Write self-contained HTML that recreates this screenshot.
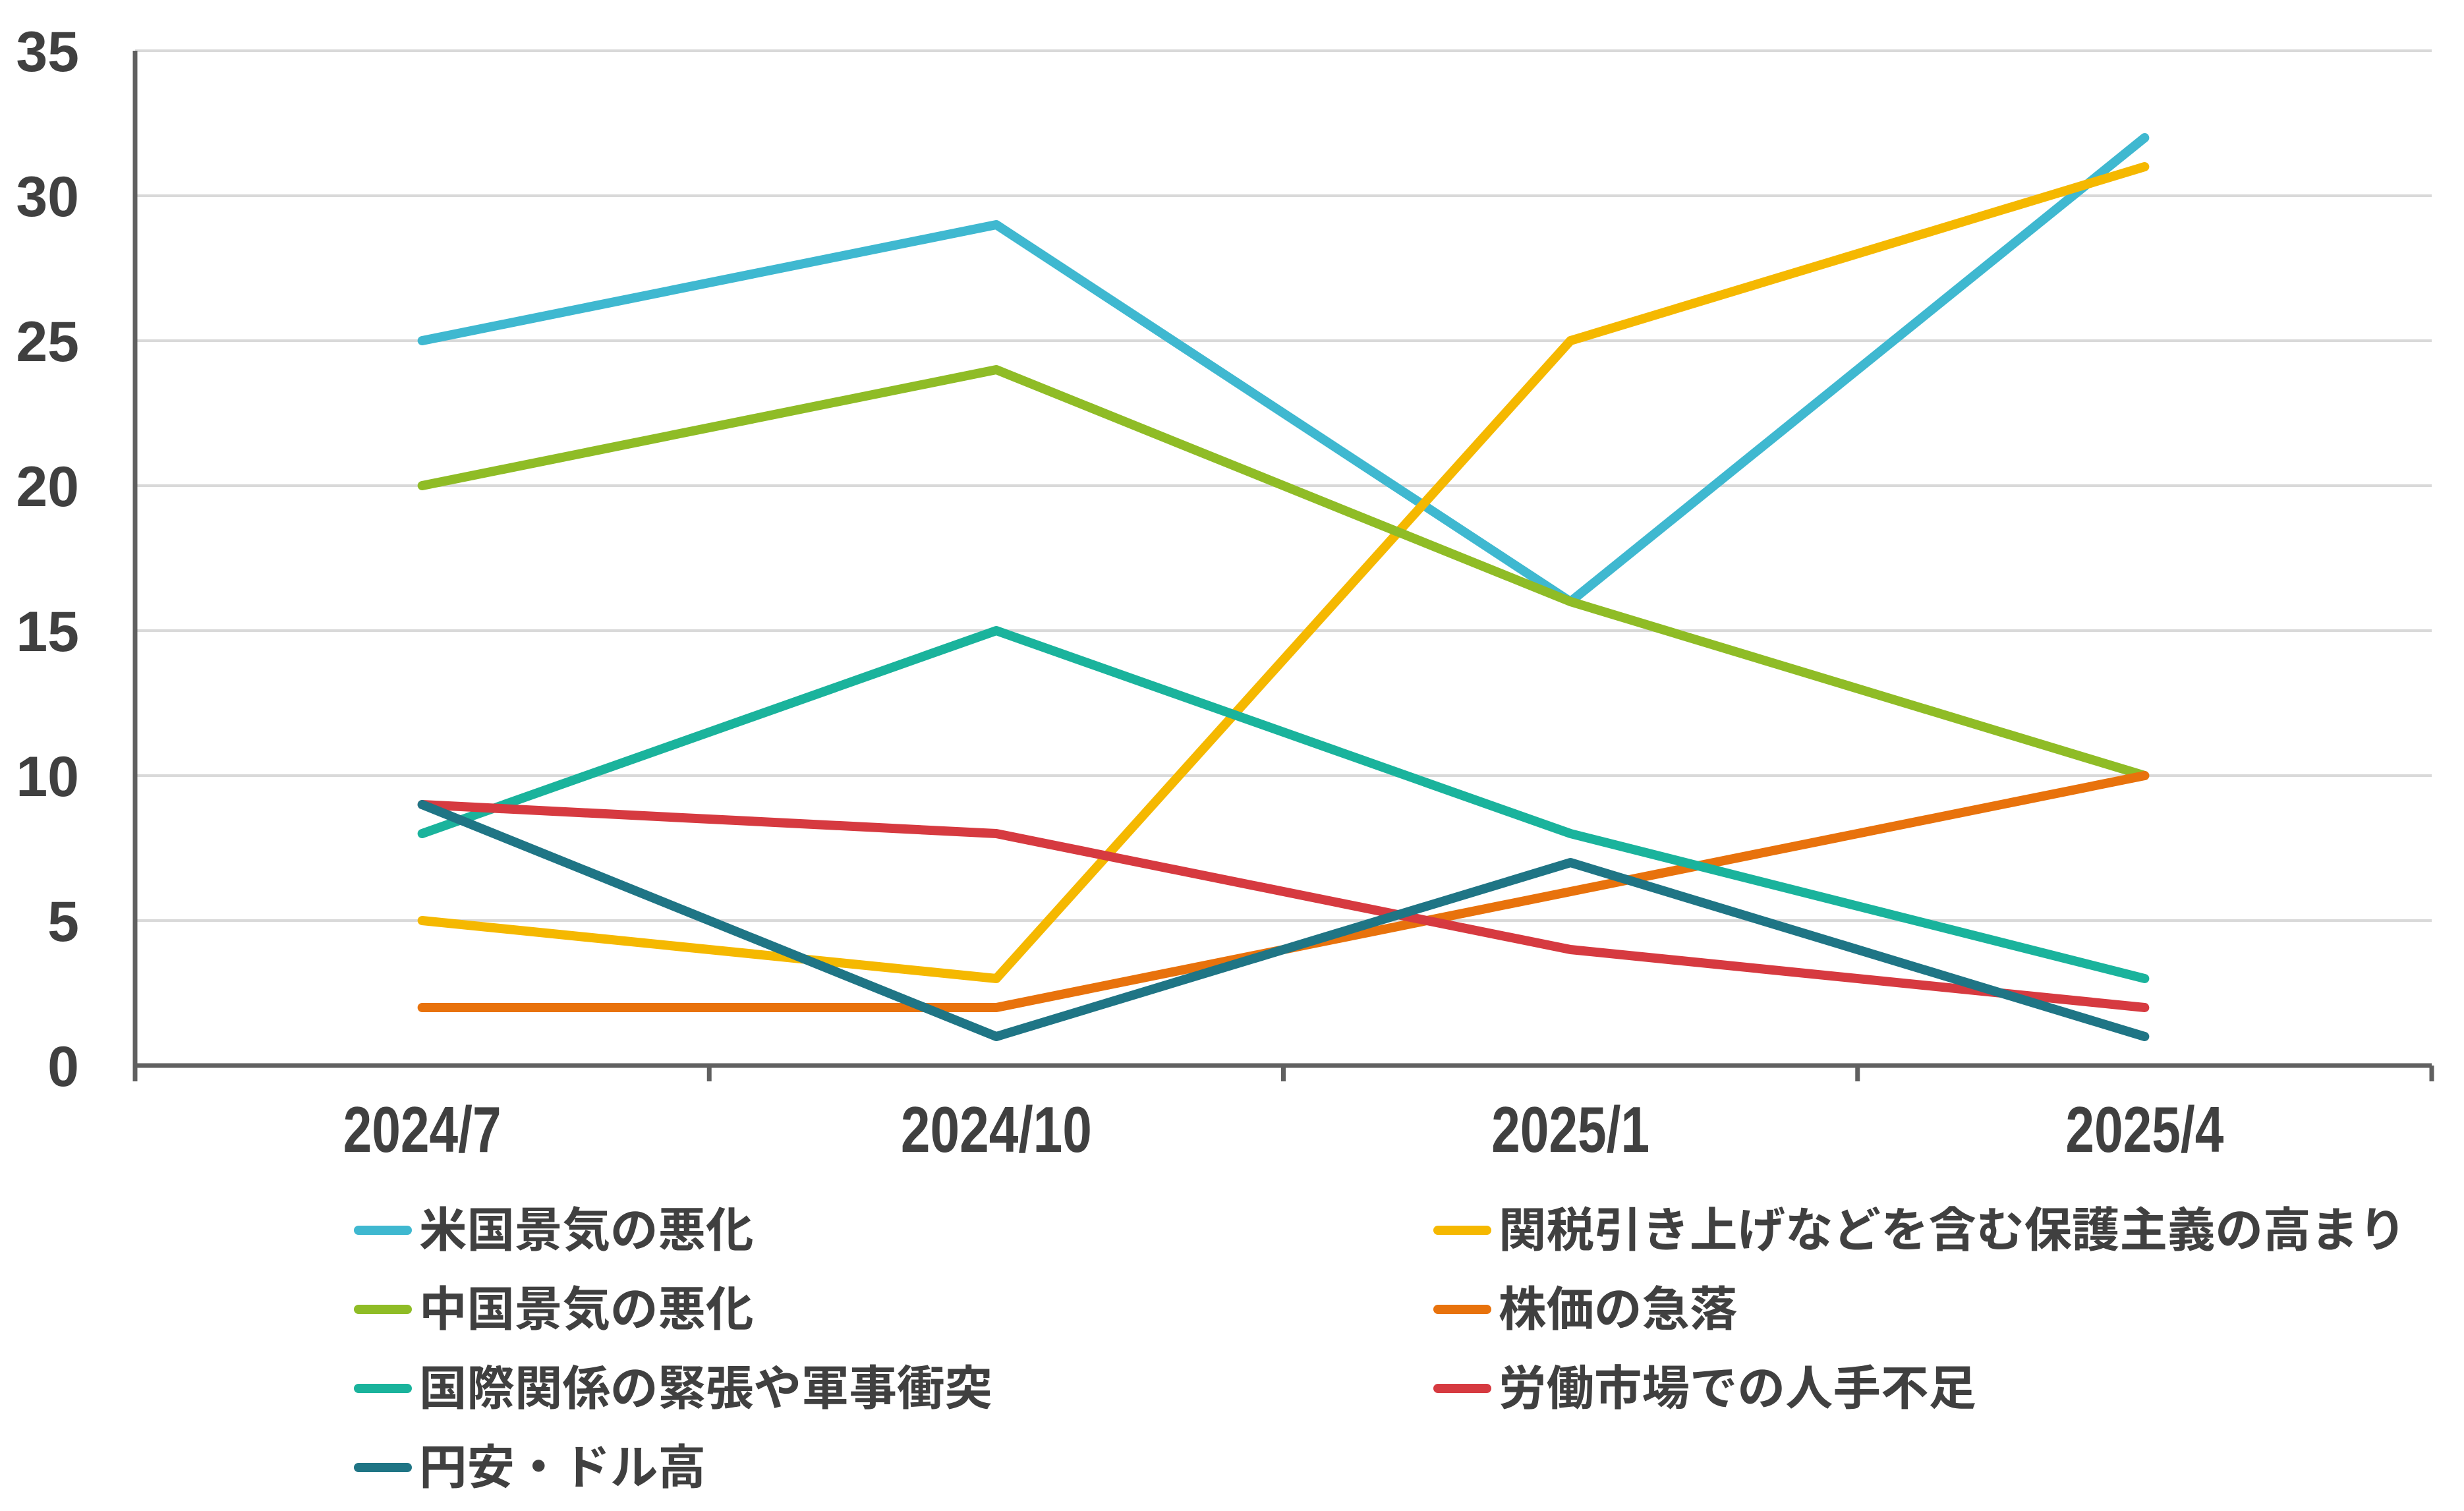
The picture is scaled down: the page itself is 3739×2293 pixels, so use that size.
<!DOCTYPE html>
<html><head><meta charset="utf-8"><style>
html,body{margin:0;padding:0;background:#fff;}
svg{display:block;}
text{font-family:"Liberation Sans","Noto Sans CJK JP",sans-serif;fill:#404040;}
</style></head><body>
<svg id="chart" width="3739" height="2293" viewBox="0 0 3739 2293" xmlns="http://www.w3.org/2000/svg">
<g id="grid"></g>
<g id="yticks"></g>
<g id="axes"></g>
<g id="xticks"></g>
<g id="series"></g>
<g id="legend"></g>
</svg>
<script>
const categories = ["2024/7","2024/10","2025/1","2025/4"];
const yTicks = [0,5,10,15,20,25,30,35];
const seriesNames = ["米国景気の悪化","関税引き上げなどを含む保護主義の高まり","中国景気の悪化","株価の急落","国際関係の緊張や軍事衝突","労働市場での人手不足","円安・ドル高"];
const usEconomy = [25,29,16,32];
const tariffs = [5,3,25,31];
const chinaEconomy = [20,24,16,10];
const stockCrash = [2,2,6,10];
const geopolitics = [8,15,8,3];
const laborShortage = [9,8,4,2];
const yenWeak = [9,1,7,1];
const seriesValues = [usEconomy,tariffs,chinaEconomy,stockCrash,geopolitics,laborShortage,yenWeak];
const colors = ["#3fb8d0","#f5b800","#8fbc26","#e8720c","#1ab39c","#d63a40","#1f7585"];
const keys = ["us-economy","tariffs","china-economy","stock-crash","geopolitics","labor-shortage","yen-weak"];

const NS="http://www.w3.org/2000/svg";
const X0=205,X1=3690,Y0=1617,Y35=77,YMAX=35;
const band=(X1-X0)/categories.length;
const xs=i=>X0+band*(i+0.5);
const ys=v=>Y0-(v/YMAX)*(Y0-Y35);
function mk(tag,attrs,parent){const e=document.createElementNS(NS,tag);for(const k in attrs)e.setAttribute(k,attrs[k]);parent.appendChild(e);return e;}

const grid=document.getElementById('grid'),yt=document.getElementById('yticks');
yTicks.forEach(t=>{
  if(t>0){const l=mk('line',{x1:X0,x2:X1,y1:ys(t),y2:ys(t),stroke:'#d9d9d9','stroke-width':4},grid);
  
  }
  const tx=mk('text',{x:120,y:ys(t)+31,'text-anchor':'end','font-size':86,'font-weight':'bold'},yt);
  tx.textContent=t;
  
  
});
const ax=document.getElementById('axes');
const ya=mk('line',{x1:X0,x2:X0,y1:Y35,y2:Y0+22,stroke:'#606060','stroke-width':7},ax);


const xa=mk('line',{x1:X0-3,x2:X1,y1:Y0,y2:Y0,stroke:'#606060','stroke-width':7},ax);


for(let i=0;i<=categories.length;i++){
  const tk=mk('line',{x1:X0+band*i,x2:X0+band*i,y1:Y0,y2:Y0+24,stroke:'#606060','stroke-width':7},ax);
  
  
}
const xt=document.getElementById('xticks');
categories.forEach((c,i)=>{
  const tx=mk('text',{x:xs(i),y:1748,'text-anchor':'middle','font-size':98,'font-weight':'bold',textLength:c.length>6?290:240,lengthAdjust:'spacingAndGlyphs'},xt);
  tx.textContent=c;
  
  
});
const sg=document.getElementById('series');
seriesValues.forEach((vals,s)=>{
  const pts=vals.map((v,i)=>xs(i)+','+ys(v)).join(' ');
  const pl=mk('polyline',{points:pts,fill:'none',stroke:colors[s],'stroke-width':14,'stroke-linecap':'round','stroke-linejoin':'round'},sg);
  
  
});
const lg=document.getElementById('legend');
const legendPos=[[0,0],[1,0],[0,1],[1,1],[0,2],[1,2],[0,3]];
seriesNames.forEach((n,s)=>{
  const [c,r]=legendPos[s];
  const lx=c===0?538:2176, ly=1867+r*120;
  const g=mk('g',{},lg);
  
  
  mk('line',{x1:lx+6,x2:lx+80,y1:ly,y2:ly,stroke:colors[s],'stroke-width':14,'stroke-linecap':'round'},g);
  const tx=mk('text',{x:lx+98,y:ly+25,'font-size':72,'font-weight':'bold',textLength:n.length*72.5,lengthAdjust:'spacingAndGlyphs'},g);
  tx.textContent=n;
});
</script>
</body></html>
